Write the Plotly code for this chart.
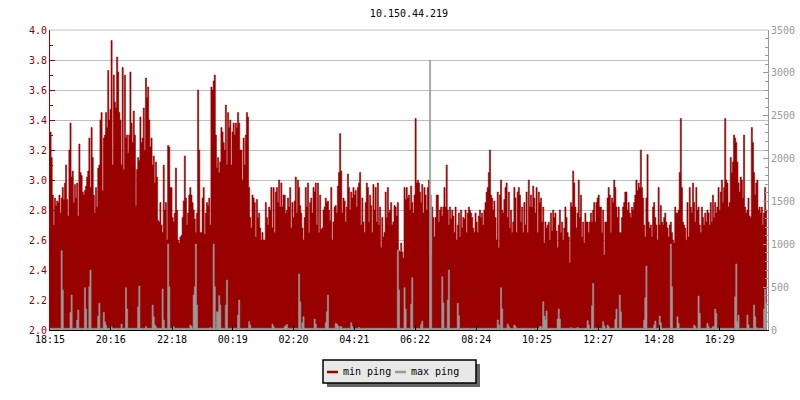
import plotly.graph_objects as go

TITLE = "10.150.44.219"
SAMPLE_MINUTES = 2.21  # sampling interval, minutes after 18:15

tick_labels = ["18:15", "20:16", "22:18", "00:19", "02:20", "04:21",
               "06:22", "08:24", "10:25", "12:27", "14:28", "16:29"]

# min ping (left axis), read left to right
min_ping_a = [
    3.32, 3.15, 2.9, 2.7, 2.88, 2.83, 2.86, 2.85, 2.9, 2.78,
    2.88, 2.95, 2.87, 2.98, 3.1, 2.87, 2.76, 3.2, 3.38, 3.02, 3.06, 2.85,
    2.97, 2.88, 2.98, 2.76, 3.24, 3.05, 3.03, 2.92, 2.9, 2.93, 2.96, 3.02,
    3.06, 3.28, 2.95, 3.35, 3.15, 2.9, 2.78, 2.95, 2.82, 3.08, 3.1, 3.4,
    3.45, 2.93, 3.28, 3.3, 3.45, 3.35, 3.73, 3.4, 3.47, 3.93, 3.1, 3.7,
    3.52, 3.48, 3.82, 3.72, 3.45, 3.4, 3.1, 3.75, 3.07, 3.7, 3.28, 3.3,
    3.18, 3.3, 3.72, 3.38, 3.25, 3.46, 3.3, 2.83, 3.07, 3.15, 3.13, 3.42,
    3.25, 3.28, 3.48, 3.2, 3.68, 3.55, 3.62, 3.4, 3.22, 3.28, 3.1, 3.16,
    2.98, 3.12, 3.02, 2.73, 2.72, 2.85, 2.7, 2.65, 3.1, 2.8, 2.85, 2.6,
    3.23, 3.22, 2.95, 2.95, 2.75, 2.72, 2.78, 3.08, 2.8, 2.6, 2.58, 2.62,
    2.63, 2.75, 2.86, 3.16, 2.88, 2.7, 2.78, 2.9, 2.95, 2.9, 2.85, 2.8,
    2.74, 2.65, 2.78, 3.6, 3.2, 2.65, 2.65, 2.88, 2.95, 2.64, 2.78, 2.85,
    2.83, 2.88, 2.7, 3.62, 3.6, 3.66, 3.7, 3.3, 3.08, 3.15, 3.05, 3.12,
    3.35, 3.32, 3.25, 3.2, 3.5, 3.1, 3.45, 3.35, 3.4, 3.1, 3.32, 3.38,
    3.3, 3.38, 3.35, 3.45, 3.38, 3.2, 3.2, 3.0, 3.28, 3.1, 3.3, 3.45,
    3.42, 2.95, 2.75, 2.68, 2.9, 2.88, 2.85, 2.62, 2.87, 2.75, 2.78, 2.68,
    2.6, 2.65, 2.6, 2.6, 2.85, 2.75, 2.7, 2.82, 2.8,
]
min_ping_b = [
    2.95, 2.68, 2.95, 2.65, 2.92, 2.95, 2.85, 3.0, 2.82, 2.98, 2.82, 2.9,
    2.9, 2.78, 2.8, 2.88, 2.82, 2.95, 2.68, 2.85, 2.75, 2.86, 3.02, 2.78,
    3.0, 2.95, 2.83, 2.78, 2.68, 2.6, 2.75, 2.95, 2.82, 2.98, 2.65, 2.85,
    2.88, 2.78, 2.95, 2.92, 2.98, 2.7, 2.98, 2.65, 2.9, 2.67, 2.68, 2.8,
    2.82, 2.88, 2.85, 2.86, 2.8, 2.73, 2.95, 2.6, 2.72, 2.82, 2.83, 2.78,
    2.96, 3.05, 3.31, 3.06, 2.78, 2.88, 2.86, 2.72, 2.82, 3.04, 2.95, 2.8,
    2.92, 2.88, 2.95, 2.9, 2.93, 2.82, 2.95, 2.98, 3.05, 2.7, 2.88, 2.72,
    2.65, 2.85, 2.98, 2.95, 2.72, 2.9, 2.83, 2.65, 2.97, 2.8, 2.95, 2.72,
    2.98, 2.7, 2.82, 2.55, 2.75, 2.62, 2.65, 2.92, 2.75, 2.95, 2.78, 2.8,
    2.85, 2.7, 2.72, 2.83, 2.82, 2.76, 2.85, 2.53, 2.52, 2.58, 2.52, 2.48,
    2.95, 2.87, 2.95, 2.88, 2.9, 2.8, 2.96, 2.85, 2.78, 2.9, 3.41, 2.98,
    3.0, 2.98, 2.92, 2.85, 2.97, 2.78, 2.95, 2.9, 2.8, 2.95, 3.0, 2.6,
    2.5, 2.82, 2.75, 2.62, 2.75, 2.9, 2.9, 2.72, 2.8, 2.82, 2.76, 2.82,
    2.95, 2.82, 3.1, 2.8, 2.7, 2.82, 2.74, 2.8, 2.76, 2.65, 2.82, 2.6,
    2.7, 2.78, 2.62, 2.8, 2.68, 2.75, 2.74, 2.8, 2.65, 2.78, 2.82, 2.8,
    2.78, 2.75, 2.68, 2.65, 2.78, 2.72, 2.65, 2.76, 2.8, 2.75, 2.78, 2.7,
    2.8, 2.85, 2.92, 2.95, 3.05, 3.2, 2.9, 2.88, 2.8, 2.86, 2.75, 2.6,
    2.92, 2.55, 2.9, 3.0, 2.8, 2.78, 2.87, 2.95, 2.98, 2.75, 2.92, 2.68,
    2.8, 2.65, 2.72, 2.95, 2.88, 2.65, 2.92, 2.95, 2.9, 2.72, 2.82, 2.65,
    2.85, 2.7, 2.92, 2.65, 3.0, 2.82,
]
min_ping_c = [
    2.9, 2.82, 2.96, 2.88, 2.78, 2.95, 2.65, 2.92, 2.85, 2.88, 2.72, 2.82,
    2.58, 2.72, 2.68, 2.7, 2.72, 2.6, 2.78, 2.66, 2.8, 2.75, 2.78, 2.66,
    2.55, 2.7, 2.8, 2.65, 2.72, 2.6, 2.68, 2.82, 2.75, 2.65, 2.62, 2.45,
    2.85, 2.82, 3.06, 2.98, 2.82, 2.68, 2.78, 3.0, 2.75, 2.9, 2.62, 2.72,
    2.58, 2.78, 2.72, 2.72, 2.65, 2.72, 2.78, 2.72, 2.8, 2.85, 2.72, 2.85,
    2.88, 2.9, 2.82, 2.82, 2.65, 2.8, 2.5, 2.72, 2.72, 2.88, 2.95, 2.9,
    2.65, 2.88, 2.85, 3.0, 2.95, 2.82, 2.75, 2.82, 2.65, 2.65, 2.75, 2.82,
    2.85, 2.92, 2.92, 2.8, 2.85, 2.78, 2.75, 2.82, 2.8, 2.85, 2.9, 3.0,
    2.93, 2.98, 2.95, 3.2, 2.95, 2.88, 2.7, 2.62, 2.88, 3.17, 2.72, 2.68,
    2.7, 2.62, 2.82, 2.85, 2.75, 2.7, 2.6, 2.95, 2.7, 2.83, 2.72, 2.7,
    2.75, 2.78, 2.72, 2.68, 2.62, 2.7, 2.72, 2.65, 2.6, 2.58, 2.82, 2.78,
    2.78, 2.8, 3.05, 3.41, 2.95, 2.72, 2.7, 2.68, 2.6, 2.85, 2.62, 2.95,
    2.82, 2.78, 2.98, 2.85, 2.72, 2.95, 2.8, 2.82, 2.7, 2.65, 2.82, 2.75,
    2.7, 2.78, 2.72, 2.8, 2.78, 2.7, 2.85, 2.72, 2.9, 2.75, 2.85, 2.78,
    2.82, 2.95, 2.8, 2.92, 3.0, 2.85, 2.95, 3.41, 3.0, 2.98, 2.82, 2.85,
    3.15, 3.05, 3.12, 3.3, 3.28, 3.25, 3.12, 2.98, 2.92, 3.02, 3.0, 2.88,
    3.3, 2.82, 2.78, 2.8, 2.88, 2.76, 2.75, 3.35, 3.25, 3.05, 2.9, 2.98,
    3.0, 2.8, 2.82, 2.78, 2.82, 2.7, 2.78, 2.95, 2.8, 2.78,
]
min_ping = min_ping_a + min_ping_b + min_ping_c

# max ping (right axis): small baseline, with spikes at sample index -> value
MAX_BASELINE = 20
max_spike_index = [
    10, 11, 18, 19, 24, 25, 31, 32, 35, 36, 43, 44, 48, 49, 50, 55, 64, 68, 69,
    79, 80, 86, 92, 93, 94, 95, 101, 102, 106, 107, 111, 126, 127, 129, 130, 131,
    132, 144, 147, 148, 150, 151, 152, 153, 158, 159, 169, 170, 179, 180,
    200, 201, 211, 212, 213, 224, 225, 227, 228, 238, 239, 248, 249, 250, 257,
    258, 259, 261, 262, 271, 272, 278, 313, 314, 319, 320, 325, 326, 334, 335,
    342, 343, 353, 354, 358, 359, 367, 368, 403, 404, 406, 407, 412, 413, 418, 419,
    441, 442, 444, 445, 446, 447, 457, 458, 459, 469, 475, 484, 485, 488, 489,
    498, 499, 502, 503, 509, 510, 513, 514, 535, 536, 537, 544, 545, 549, 550,
    559, 560, 565, 566, 580, 581, 584, 585, 592, 593, 597, 598, 599, 600, 617,
    618, 619, 620, 628, 629, 634, 635, 636, 643, 644, 645,
]
max_spike_value = [
    925, 467, 206, 408, 117, 233, 494, 245, 505, 700, 163, 311, 206, 97, 58, 39, 70, 494, 245,
    272, 513, 40, 292, 156, 60, 40, 478, 117, 1003, 505, 40, 58, 45, 408, 505, 1003,
    292, 30, 1003, 505, 214, 206, 400, 292, 292, 583, 175, 350, 97, 58,
    70, 40, 40, 50, 65, 653, 330, 85, 156, 128, 70, 85, 214, 408, 78,
    70, 50, 40, 40, 85, 40, 30, 933, 467, 494, 245, 303, 610, 65, 105,
    3150, 1575, 622, 319, 350, 700, 311, 167, 117, 60, 494, 245, 70, 40, 58, 40,
    40, 40, 330, 163, 117, 222, 128, 245, 128, 30, 30, 109, 58, 284, 544,
    97, 50, 58, 40, 124, 245, 408, 214, 117, 377, 747, 58, 105, 163, 85,
    1003, 505, 156, 78, 58, 40, 397, 194, 78, 45, 40, 40, 245, 194, 389,
    770, 97, 175, 175, 60, 292, 156, 30, 245, 478, 311,
]

max_ping = [MAX_BASELINE] * len(min_ping)
for i, v in zip(max_spike_index, max_spike_value):
    if i < len(max_ping):
        max_ping[i] = v

t = [i * SAMPLE_MINUTES for i in range(len(min_ping))]


def minutes_after_start(label, start="18:15"):
    h, m = map(int, label.split(":"))
    sh, sm = map(int, start.split(":"))
    return ((h * 60 + m) - (sh * 60 + sm)) % 1440


tick_vals = [minutes_after_start(s) for s in tick_labels]

RED = "#990000"
GRAY = "#999999"
FONT = "DejaVu Sans Mono"

fig = go.Figure()
fig.add_trace(go.Scatter(
    x=t, y=min_ping, name="min ping", mode="lines",
    line=dict(color=RED, width=0.6, shape="hv"),
    fill="tozeroy", fillcolor=RED, showlegend=False, hoverinfo="skip",
))
fig.add_trace(go.Scatter(
    x=t, y=max_ping, name="max ping", mode="lines", yaxis="y2",
    line=dict(color=GRAY, width=0.6, shape="hv"),
    fill="tozeroy", fillcolor=GRAY, showlegend=False, hoverinfo="skip",
))

fig.update_layout(
    width=800, height=400, autosize=False,
    margin=dict(l=50, r=32, t=30, b=70, autoexpand=False),
    paper_bgcolor="white", plot_bgcolor="white",
    font=dict(family=FONT, size=10, color="#000"),
    title=dict(text=TITLE, x=0.5, xref="paper", y=1 - 13 / 400, yref="container",
               yanchor="middle", xanchor="center", automargin=False,
               font=dict(family=FONT, size=10, color="#000")),
    xaxis=dict(range=[0, 1430], tickvals=tick_vals, ticktext=tick_labels,
               ticks="inside", ticklen=5, tickcolor="#000", tickwidth=1,
               showline=True, linecolor="#000", linewidth=1, automargin=False,
               showgrid=False, zeroline=False,
               tickfont=dict(family=FONT, size=10, color="#000")),
    yaxis=dict(range=[2, 4], tick0=2, dtick=0.2, tickformat=".1f",
               ticks="inside", ticklen=5, tickcolor=RED, automargin=False,
               minor=dict(dtick=0.1, ticks="inside", ticklen=3, tickcolor=RED, showgrid=False),
               showline=True, linecolor=RED, linewidth=1,
               showgrid=True, gridcolor="#c0c0c0", gridwidth=1, zeroline=False,
               tickfont=dict(family=FONT, size=10, color=RED)),
    yaxis2=dict(range=[0, 3500], tick0=0, dtick=500, overlaying="y", side="right",
                ticks="inside", ticklen=5, tickcolor=GRAY, automargin=False,
                minor=dict(dtick=100, ticks="inside", ticklen=3, tickcolor=GRAY, showgrid=False),
                showline=True, linecolor=GRAY, linewidth=1,
                showgrid=False, zeroline=False,
                tickfont=dict(family=FONT, size=10, color=GRAY)),
)

# legend box drawn by hand (paper coords: plot spans x 50..768, y 30..330 px)
def px_x(p):
    return (p - 50) / 718


def px_y(p):
    return (330 - p) / 300


shapes = [
    # top border (4.0 gridline)
    dict(type="line", xref="paper", yref="paper", x0=0, x1=1, y0=1, y1=1,
         line=dict(color="#c0c0c0", width=1), layer="below"),
    dict(type="rect", xref="paper", yref="paper", x0=px_x(327), x1=px_x(480),
         y0=px_y(387), y1=px_y(364), fillcolor="#666666", line=dict(width=0), layer="above"),
    dict(type="rect", xref="paper", yref="paper", x0=px_x(323), x1=px_x(476),
         y0=px_y(383), y1=px_y(360), fillcolor="#e8e8e8", line=dict(color="#000", width=1.5), layer="above"),
    dict(type="line", xref="paper", yref="paper", x0=px_x(327), x1=px_x(338),
         y0=px_y(372), y1=px_y(372), line=dict(color=RED, width=2.5), layer="above"),
    dict(type="line", xref="paper", yref="paper", x0=px_x(395), x1=px_x(406),
         y0=px_y(372), y1=px_y(372), line=dict(color=GRAY, width=2.5), layer="above"),
]
fig.update_layout(shapes=shapes)
fig.add_annotation(text="min ping", xref="paper", yref="paper", x=px_x(341), y=px_y(371),
                   xanchor="left", yanchor="middle", showarrow=False,
                   font=dict(family=FONT, size=10, color="#000"))
fig.add_annotation(text="max ping", xref="paper", yref="paper", x=px_x(409), y=px_y(371),
                   xanchor="left", yanchor="middle", showarrow=False,
                   font=dict(family=FONT, size=10, color="#000"))

fig.write_html("out.html", config={"displayModeBar": False},
               post_script="document.body.style.margin='0';document.body.style.overflow='hidden';")
